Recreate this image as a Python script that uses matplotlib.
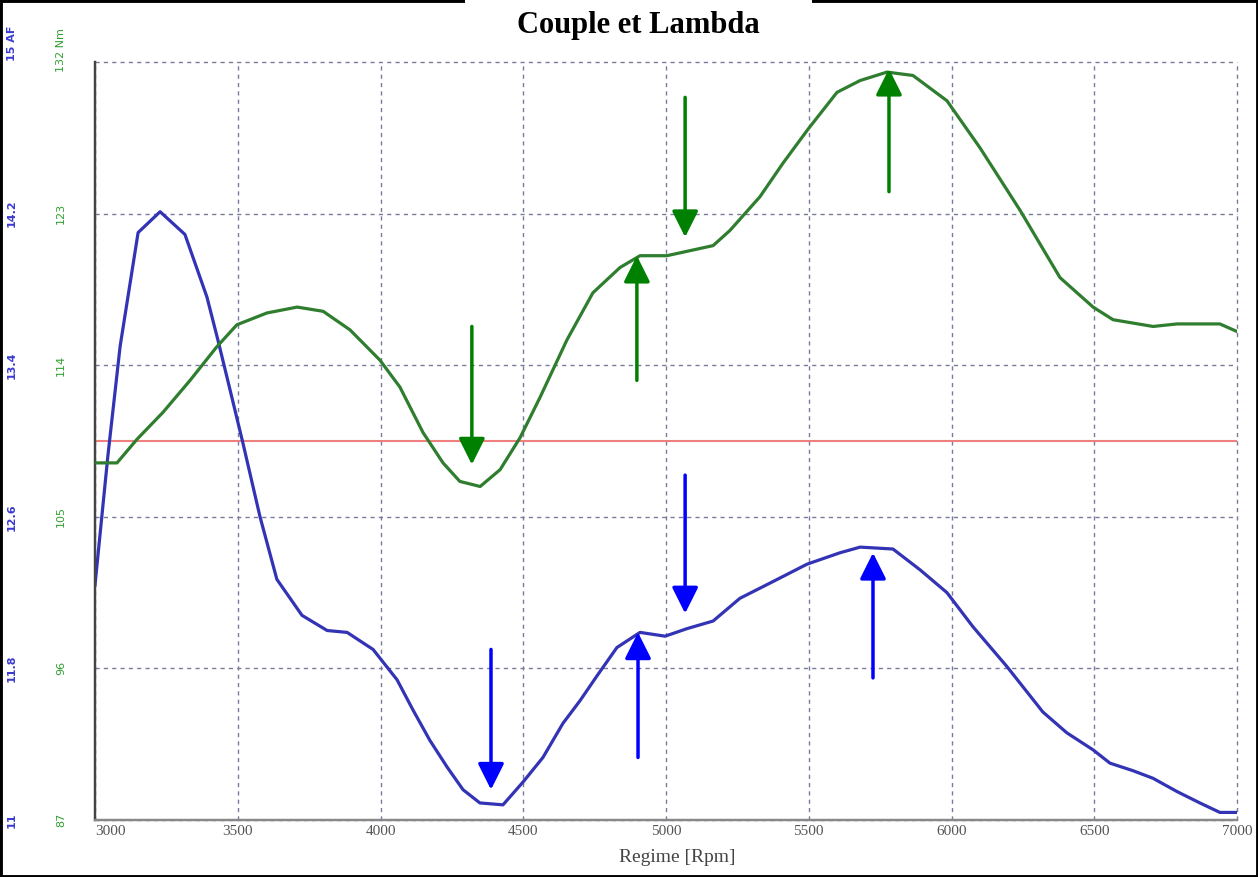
import matplotlib
matplotlib.use('Agg')
import matplotlib.pyplot as plt
import matplotlib.transforms as mtransforms
from matplotlib.patches import Rectangle

# Lambda curve (air/fuel ratio)
rpm_af = [3000, 3045, 3088, 3151, 3228, 3315, 3392, 3431, 3473, 3518, 3578, 3637,
          3725, 3813, 3883, 3974, 4058, 4114, 4173, 4233, 4289, 4348, 4429, 4499,
          4569, 4639, 4699, 4758, 4828, 4909, 4997, 5074, 5165, 5259, 5364, 5494,
          5609, 5680, 5795, 5890, 5984, 6075, 6194, 6320, 6404, 6496, 6555, 6636,
          6706, 6790, 6870, 6940, 7000]
af = [12.24, 12.92, 13.50, 14.10, 14.21, 14.09, 13.76, 13.53, 13.27, 12.99, 12.60, 12.27,
      12.08, 12.00, 11.99, 11.90, 11.74, 11.58, 11.42, 11.28, 11.16, 11.09, 11.08, 11.20,
      11.33, 11.51, 11.63, 11.76, 11.91, 11.99, 11.97, 12.01, 12.05, 12.17, 12.25, 12.35,
      12.41, 12.44, 12.43, 12.32, 12.20, 12.02, 11.81, 11.57, 11.46, 11.37, 11.30, 11.26,
      11.22, 11.15, 11.09, 11.04, 11.04]

# Torque curve (Nm)
rpm_couple = [3000, 3077, 3147, 3238, 3333, 3427, 3497, 3602, 3708, 3799, 3893, 3998,
              4068, 4149, 4219, 4278, 4349, 4419, 4489, 4559, 4653, 4744, 4839, 4909,
              5003, 5084, 5165, 5224, 5329, 5410, 5497, 5599, 5680, 5774, 5865, 5984,
              6100, 6240, 6380, 6496, 6566, 6706, 6790, 6940, 7000]
couple = [108.2, 108.2, 109.6, 111.2, 113.1, 115.1, 116.4, 117.1, 117.45, 117.2, 116.1, 114.3,
          112.7, 110.0, 108.2, 107.1, 106.8, 107.8, 109.7, 112.1, 115.5, 118.3, 119.8, 120.5,
          120.5, 120.8, 121.1, 122.0, 124.0, 126.0, 128.0, 130.2, 130.9, 131.4, 131.2, 129.7,
          126.9, 123.2, 119.2, 117.45, 116.7, 116.3, 116.45, 116.45, 116.0]

af_ref = 13.0

# arrows: rpm, start value, tip value
green_arrow_rpm = [4320, 4898, 5067, 5781]
green_arrow_from = [116.3, 113.1, 129.9, 124.3]
green_arrow_to = [108.1, 120.5, 121.6, 131.6]
blue_arrow_rpm = [4387, 4902, 5067, 5725]
blue_arrow_from = [11.90, 11.33, 12.82, 11.75]
blue_arrow_to = [11.16, 11.99, 12.09, 12.41]

rpm_ticks = [3000, 3500, 4000, 4500, 5000, 5500, 6000, 6500, 7000]
af_ticks = [11, 11.8, 12.6, 13.4, 14.2, 15]
af_labels = ['11', '11.8', '12.6', '13.4', '14.2', '15 AF']
couple_ticks = [87, 96, 105, 114, 123, 132]
couple_labels = ['87', '96', '105', '114', '123', '132 Nm']

fig = plt.figure(figsize=(12.58, 8.77), dpi=100)
ax = fig.add_axes([95 / 1258, 1 - 820 / 877, 1142 / 1258, 758 / 877])
ax2 = ax.twinx()

ax.set_xlim(3000, 7000)
ax.set_ylim(11, 15)
ax2.set_ylim(87, 132)

ax.set_xticks(rpm_ticks)
ax.set_yticks(af_ticks)
ax.set_yticklabels([])
ax2.set_yticks([])
ax.tick_params(length=0)
ax.set_xticklabels([str(t) for t in rpm_ticks], family='Liberation Serif',
                   fontsize=11, color='#555555')
ax.get_xticklabels()[0].set_ha('left')
ax.grid(True, color='#7a7a9a', linestyle=(0, (3, 3)), linewidth=1)
for line in ax.get_xgridlines() + ax.get_ygridlines():
    line.set_clip_on(False)

for a in (ax, ax2):
    a.spines['top'].set_visible(False)
    a.spines['right'].set_visible(False)
    a.spines['left'].set_color('#444444')
    a.spines['left'].set_linewidth(1.6)
    a.spines['bottom'].set_color('#888888')
    a.spines['bottom'].set_linewidth(1.6)

ax.set_xlabel('Regime [Rpm]', family='Liberation Serif', fontsize=14, color='#444444')
ax.xaxis.set_label_coords(0.51, -0.038)

# curves
ax.axhline(af_ref, color='#f08080', linewidth=1.5, zorder=2)
ax.plot(rpm_af, af, color='#3333b5', linewidth=2.3, zorder=3)
ax2.plot(rpm_couple, couple, color='#2f7d2f', linewidth=2.3, zorder=3)

for x, y0, y1 in zip(green_arrow_rpm, green_arrow_from, green_arrow_to):
    ax2.annotate('', xy=(x, y1), xytext=(x, y0),
                 arrowprops=dict(arrowstyle='-|>,head_length=0.8,head_width=0.4',
                                 mutation_scale=20, color='#008000', lw=2.5,
                                 shrinkA=0, shrinkB=0))
for x, y0, y1 in zip(blue_arrow_rpm, blue_arrow_from, blue_arrow_to):
    ax.annotate('', xy=(x, y1), xytext=(x, y0),
                arrowprops=dict(arrowstyle='-|>,head_length=0.8,head_width=0.4',
                                mutation_scale=20, color='#0000ff', lw=2.5,
                                shrinkA=0, shrinkB=0))

# rotated axis labels on the left
tr_blue = mtransforms.blended_transform_factory(fig.transFigure, ax.transData)
tr_green = mtransforms.blended_transform_factory(fig.transFigure, ax2.transData)
for i, (v, s) in enumerate(zip(af_ticks, af_labels)):
    t = tr_blue
    if i == len(af_ticks) - 1:
        t = mtransforms.offset_copy(tr_blue, fig=fig, y=19, units='dots')
    fig.text(12 / 1258, v, s, transform=t, rotation=90, ha='center', va='center',
             fontsize=8, fontweight='bold', color='#3a3ad0')
for i, (v, s) in enumerate(zip(couple_ticks, couple_labels)):
    t = tr_green
    if i == len(couple_ticks) - 1:
        t = mtransforms.offset_copy(tr_green, fig=fig, y=12, units='dots')
    fig.text(61 / 1258, v, s, transform=t, rotation=90, ha='center', va='center',
             fontsize=8, color='#2ea02e')

# black frame and title box
fig.patches.append(Rectangle((0, 0), 1, 1, transform=fig.transFigure, fill=False,
                             edgecolor='black', linewidth=3.5, zorder=5))
fig.patches.append(Rectangle((465 / 1258, 1 - 50 / 877), 347 / 1258, 50 / 877,
                             transform=fig.transFigure, facecolor='white',
                             edgecolor='none', zorder=6))
fig.text(638 / 1258, 1 - 25 / 877, 'Couple et Lambda', ha='center', va='center',
         family='Liberation Serif', fontsize=22, fontweight='bold', zorder=7)

fig.savefig('out.png', dpi=100)
